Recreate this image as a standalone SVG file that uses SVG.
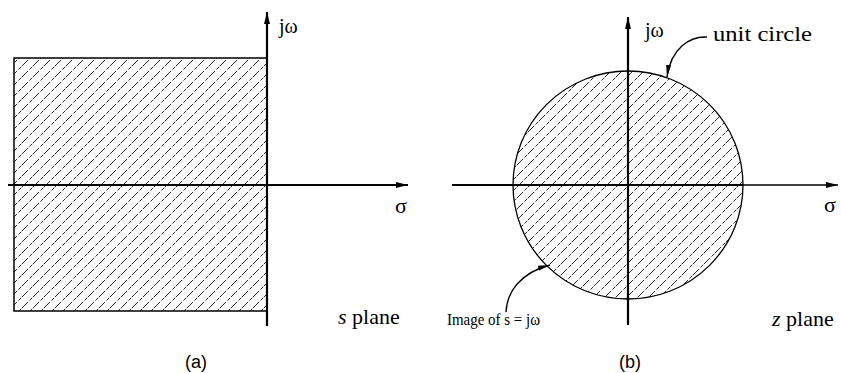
<svg xmlns="http://www.w3.org/2000/svg" width="841" height="373" viewBox="0 0 841 373">
  <style>
    .axis { stroke: #000; stroke-width: 2.2; fill: none; }
    .thin { stroke: #000; stroke-width: 1.4; fill: none; }
    .lbl { font-family: "Liberation Serif", "Times New Roman", serif; fill: #000; }
    .cap { font-family: "Liberation Sans", Arial, sans-serif; fill: #000; font-size: 18px; }
  </style>
  <defs>
    <pattern id="hatch" patternUnits="userSpaceOnUse" width="11" height="11">
      <line x1="-1" y1="12" x2="12" y2="-1" stroke="#111" stroke-width="0.9" stroke-dasharray="10 2 4 2"/>
    </pattern>
    <marker id="arr" viewBox="0 0 12 6" refX="12" refY="3" markerWidth="12" markerHeight="6" markerUnits="userSpaceOnUse" orient="auto">
      <path d="M0,0 L12,3 L0,6 Z" fill="#000"/>
    </marker>
    <marker id="arrs" viewBox="0 0 12 6" refX="12" refY="3" markerWidth="12" markerHeight="6" markerUnits="userSpaceOnUse" orient="auto">
      <path d="M0,0.5 L12,3 L0,5.5 Z" fill="#000"/>
    </marker>
  </defs>

  <!-- Panel (a): s plane -->
  <g id="s-region">
    <rect x="14" y="58" width="253" height="253" fill="url(#hatch)" stroke="#000" stroke-width="1.5"/>
  </g>
  <g id="s-axes">
    <line class="axis" x1="8" y1="185" x2="408" y2="185" marker-end="url(#arr)"/>
    <line class="axis" x1="267" y1="326" x2="267" y2="12" marker-end="url(#arr)"/>
  </g>
  <g id="s-labels">
    <text class="lbl" x="279" y="33" font-size="20">jω</text>
    <text class="lbl" x="395" y="213" font-size="22">σ</text>
    <text class="lbl" x="338" y="324" font-size="22"><tspan font-style="italic">s</tspan> plane</text>
    <text class="cap" x="196" y="368" text-anchor="middle">(a)</text>
  </g>

  <!-- Panel (b): z plane -->
  <g id="z-region">
    <ellipse cx="628" cy="185" rx="115" ry="114" fill="url(#hatch)" stroke="#000" stroke-width="1.3"/>
  </g>
  <g id="z-axes">
    <line class="axis" x1="452" y1="185" x2="743" y2="185"/>
    <line class="thin" x1="743" y1="185" x2="838" y2="185" marker-end="url(#arr)"/>
    <line class="axis" x1="628" y1="325" x2="628" y2="17" marker-end="url(#arr)"/>
  </g>
  <g id="z-labels">
    <text class="lbl" x="645" y="37" font-size="20">jω</text>
    <text class="lbl" x="824" y="212" font-size="22">σ</text>
    <text class="lbl" x="772" y="326" font-size="22"><tspan font-style="italic">z</tspan> plane</text>
    <text class="lbl" x="713" y="41" font-size="22" textLength="99" lengthAdjust="spacingAndGlyphs">unit circle</text>
    <text class="lbl" x="447" y="325" font-size="17" textLength="93" lengthAdjust="spacingAndGlyphs">Image of s = jω</text>
    <text class="cap" x="630" y="368" text-anchor="middle">(b)</text>
  </g>

  <g id="connectors">
    <path class="thin" d="M707,37 C690,36 671,48 667,77" marker-end="url(#arrs)"/>
    <path class="thin" d="M506,312 C507,292 520,273 550,265" marker-end="url(#arrs)"/>
  </g>
</svg>
